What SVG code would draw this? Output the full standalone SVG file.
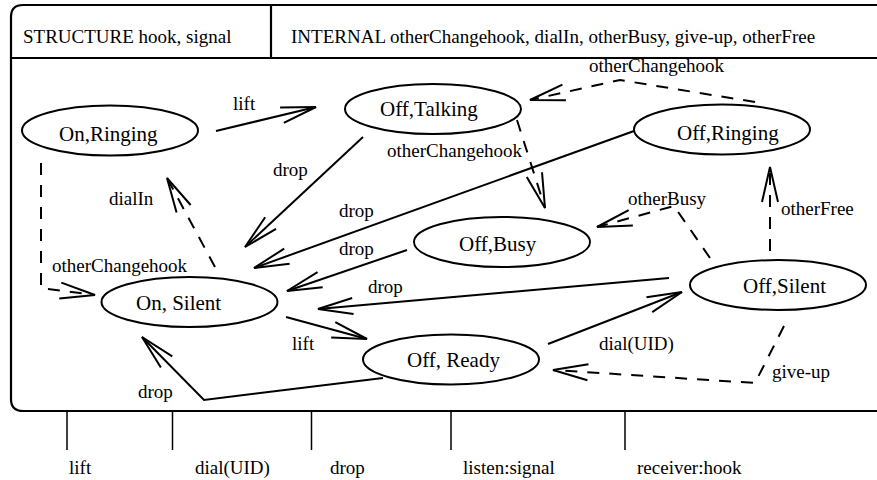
<svg xmlns="http://www.w3.org/2000/svg" width="877" height="480" viewBox="0 0 877 480">
<style>
text{font-family:"Liberation Serif","Times New Roman",serif;fill:#000}
.hd{font-size:19px}
.nl{font-size:21px}
.el{font-size:19px}
.frame{fill:none;stroke:#000;stroke-width:2.2}
.node ellipse{fill:#fff;stroke:#000;stroke-width:2}
.e{fill:none;stroke:#000;stroke-width:2;marker-end:url(#ah)}
.d{stroke-dasharray:12 10}
.tick{stroke:#000;stroke-width:1.5}
</style>
<defs>
<marker id="ah" markerUnits="userSpaceOnUse" markerWidth="40" markerHeight="20" viewBox="-37 -10 40 20" refX="0" refY="0" orient="auto" overflow="visible">
<path d="M-35,-8 L0,0 L-35,8" fill="none" stroke="#000" stroke-width="2" stroke-dasharray="none"/>
</marker>
</defs>
<rect width="877" height="480" fill="#fff"/>
<g id="frame">
<path class="frame" d="M880,5 L23,5 Q11,5 11,17 L11,399 Q11,411 23,411 L880,411"/>
<line class="frame" x1="11" y1="58" x2="880" y2="58"/>
<line class="frame" x1="271" y1="5" x2="271" y2="58"/>
<text class="hd" x="23" y="43">STRUCTURE hook, signal</text>
<text class="hd" x="291" y="43">INTERNAL otherChangehook, dialIn, otherBusy, give-up, otherFree</text>
</g>
<g id="ports">
<line class="tick" x1="67" y1="411" x2="67" y2="450"/>
<line class="tick" x1="172.5" y1="411" x2="172.5" y2="450"/>
<line class="tick" x1="311.5" y1="411" x2="311.5" y2="450"/>
<line class="tick" x1="451" y1="411" x2="451" y2="450"/>
<line class="tick" x1="625" y1="411" x2="625" y2="450"/>
<text class="el" x="69" y="474">lift</text>
<text class="el" x="195" y="474">dial(UID)</text>
<text class="el" x="330" y="474">drop</text>
<text class="el" x="463" y="474">listen:signal</text>
<text class="el" x="637" y="474">receiver:hook</text>
</g>
<g id="connectors">
<path class="e" d="M216,131 L316,107"/>
<path class="e" d="M363,137 L245,247"/>
<path class="e" d="M634,131 L254,268"/>
<path class="e" d="M407,250 L287,291"/>
<path class="e" d="M669,278 L318,309"/>
<path class="e" d="M286,317 L367,339"/>
<path class="e" d="M383,378 L204,400 L142,337"/>
<path class="e" d="M548,344 L682,292"/>
<path class="e d" d="M784,326 L755,383 L553,370"/>
<path class="e d" d="M770,251 L770,167"/>
<path class="e d" d="M710,258 L674,206 L597,227"/>
<path class="e d" d="M517,120 L545,208"/>
<path class="e d" d="M755,102 L620,80 L530,100"/>
<path class="e d" d="M215,267 L167,178"/>
<path class="e d" d="M41,163 L41,288 L95,295"/>
<text class="el" x="233" y="110">lift</text>
<text class="el" x="273" y="176">drop</text>
<text class="el" x="339" y="217">drop</text>
<text class="el" x="339" y="255">drop</text>
<text class="el" x="368" y="293">drop</text>
<text class="el" x="292" y="350">lift</text>
<text class="el" x="138" y="398">drop</text>
<text class="el" x="599" y="350">dial(UID)</text>
<text class="el" x="772" y="378">give-up</text>
<text class="el" x="781" y="215">otherFree</text>
<text class="el" x="628" y="205">otherBusy</text>
<text class="el" x="387" y="157">otherChangehook</text>
<text class="el" x="589" y="72">otherChangehook</text>
<text class="el" x="109" y="205">dialIn</text>
<text class="el" x="52" y="272">otherChangehook</text>
</g>
<g id="n-on-ringing" class="node"><ellipse cx="110" cy="130.5" rx="88" ry="25"/><text class="nl" x="59" y="141">On,Ringing</text></g>
<g id="n-off-talking" class="node"><ellipse cx="433" cy="109" rx="88" ry="25"/><text class="nl" x="380" y="116">Off,Talking</text></g>
<g id="n-off-ringing" class="node"><ellipse cx="722" cy="129.5" rx="88" ry="25"/><text class="nl" x="677" y="140">Off,Ringing</text></g>
<g id="n-off-busy" class="node"><ellipse cx="502" cy="242" rx="88" ry="25"/><text class="nl" x="459" y="251">Off,Busy</text></g>
<g id="n-on-silent" class="node"><ellipse cx="189.5" cy="302" rx="88" ry="25"/><text class="nl" x="136" y="310">On, Silent</text></g>
<g id="n-off-silent" class="node"><ellipse cx="778" cy="285" rx="88" ry="25"/><text class="nl" x="743" y="293">Off,Silent</text></g>
<g id="n-off-ready" class="node"><ellipse cx="451" cy="359.5" rx="88" ry="25"/><text class="nl" x="407" y="367">Off, Ready</text></g>
</svg>
